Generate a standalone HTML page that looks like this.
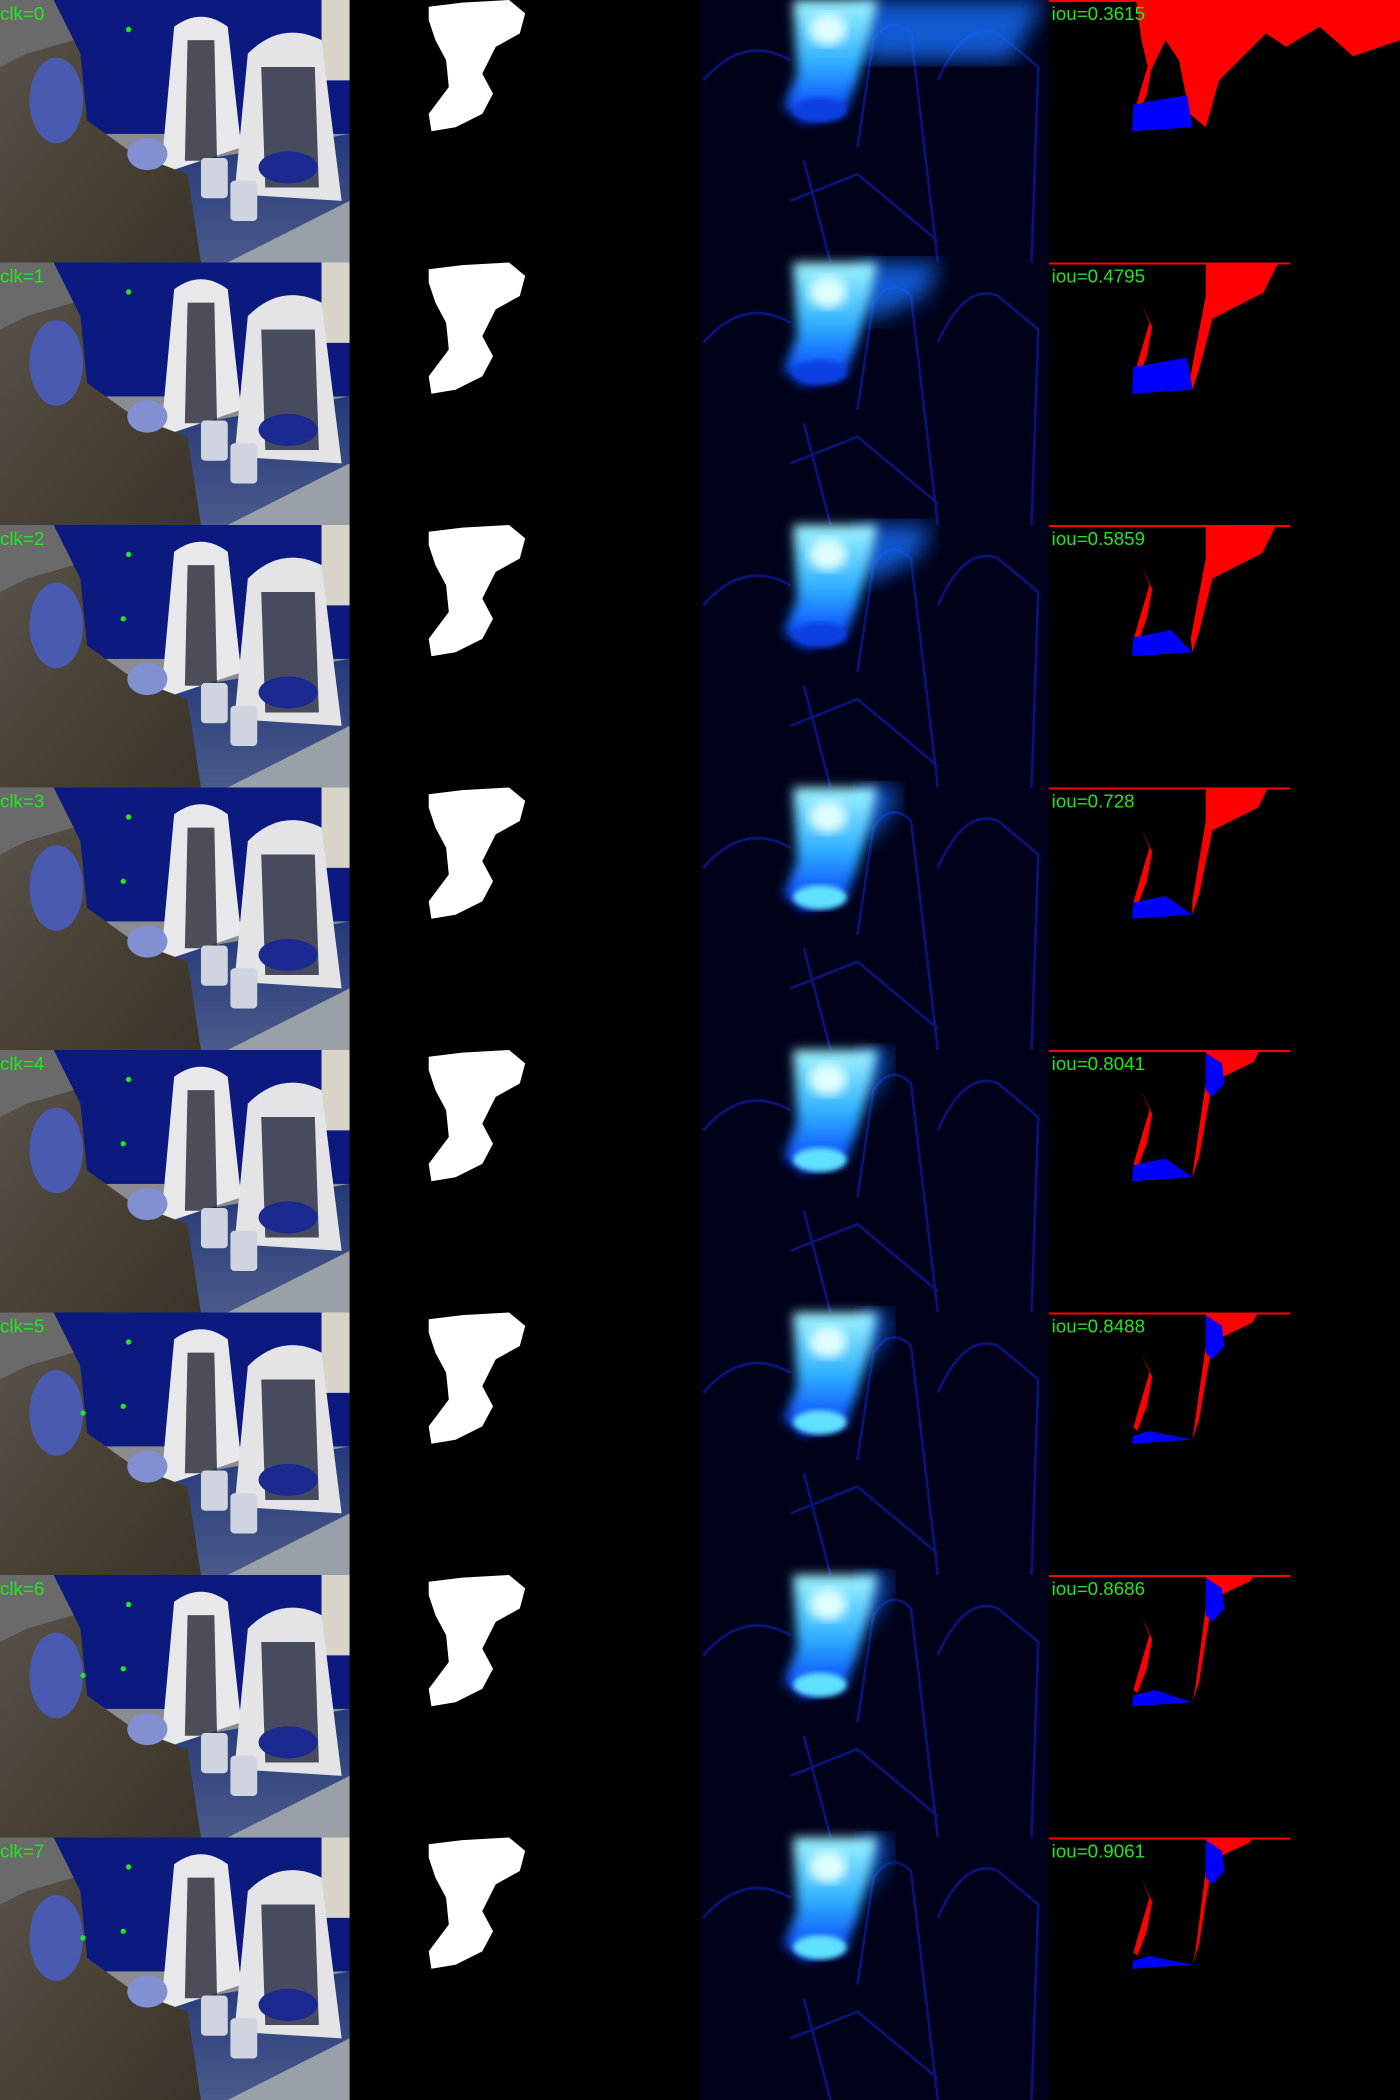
<!DOCTYPE html>
<html><head><meta charset="utf-8">
<style>
html,body{margin:0;padding:0;background:#000;}
svg{display:block;}
</style></head>
<body>
<svg id="grid" xmlns="http://www.w3.org/2000/svg" width="1400" height="2100" viewBox="0 0 1045 1568" preserveAspectRatio="none">
<defs>
<filter id="blur8"><feGaussianBlur stdDeviation="8"/></filter>
<filter id="blur4"><feGaussianBlur stdDeviation="4"/></filter>
<filter id="blur2"><feGaussianBlur stdDeviation="2"/></filter>
<linearGradient id="person" x1="0" y1="0" x2="1" y2="1">
<stop offset="0" stop-color="#5a5550"/><stop offset="0.5" stop-color="#4a4236"/><stop offset="1" stop-color="#3a342a"/>
</linearGradient>
<linearGradient id="floor" x1="0" y1="0" x2="0" y2="1">
<stop offset="0" stop-color="#24387a"/><stop offset="1" stop-color="#4a5a8a"/>
</linearGradient>
<linearGradient id="heat" x1="0" y1="0" x2="0" y2="1">
<stop offset="0" stop-color="#a0f4ff"/><stop offset="0.5" stop-color="#30b0ff"/><stop offset="1" stop-color="#0030ff"/>
</linearGradient>
</defs>
<rect x="0" y="0" width="1045" height="1568" fill="#000"/>
</svg>
<script>
const clickIndices = [0,1,2,3,4,5,6,7];
const iouValues = [0.3615,0.4795,0.5859,0.728,0.8041,0.8488,0.8686,0.9061];
const redScale = [1.0,0.75,0.7,0.5,0.3,0.25,0.15,0.12];
const blueScale = [1.0,1.0,0.7,0.6,0.6,0.3,0.4,0.3];
const spreadScale = [1.0,0.35,0.3,0.1,0.05,0.05,0.05,0.05];

const NS="http://www.w3.org/2000/svg";
const svg=document.getElementById('grid');
const ROW=196;
function el(tag,attrs,parent){const e=document.createElementNS(NS,tag);for(const k in attrs)e.setAttribute(k,attrs[k]);(parent||svg).appendChild(e);return e;}
function rowY(i){return i*ROW;}

clickIndices.forEach((c,i)=>{
  const g=el('g',{transform:`translate(0,${rowY(i)})`});
  
  
  const p=el('g',{},g);
  
  
  el('rect',{x:0,y:0,width:261,height:ROW,fill:'#8a8c90'},p);
  el('rect',{x:0,y:0,width:261,height:100,fill:'#0c1a80'},p);
  el('rect',{x:240,y:0,width:21,height:60,fill:'#d8d4c8'},p);
  el('polygon',{points:'90,130 261,100 261,150 170,196 110,196',fill:'url(#floor)'},p);
  el('polygon',{points:'170,196 261,150 261,196',fill:'#9aa0a8'},p);
  el('path',{d:'M120,130 L130,20 Q150,5 170,20 L180,110 Z',fill:'#e8e8ea'},p);
  el('path',{d:'M140,30 L160,30 L162,120 L138,120 Z',fill:'#1a1a2a',opacity:0.75},p);
  el('path',{d:'M175,145 L185,40 Q210,15 240,30 L255,150 Z',fill:'#e4e4e6'},p);
  el('path',{d:'M195,50 L235,50 L238,140 L198,140 Z',fill:'#141830',opacity:0.75},p);
  el('ellipse',{cx:215,cy:125,rx:22,ry:12,fill:'#1a2a90'},p);
  el('rect',{x:150,y:118,width:20,height:30,fill:'#d0d4e0',rx:3},p);
  el('rect',{x:172,y:135,width:20,height:30,fill:'#d0d4e0',rx:3},p);
  el('path',{d:'M0,0 L40,0 L60,40 L65,90 L100,115 L140,130 L150,196 L0,196 Z',fill:'url(#person)'},p);
  el('path',{d:'M0,0 L40,0 L55,30 L20,40 L0,50 Z',fill:'#6a6a6a'},p);
  el('ellipse',{cx:42,cy:75,rx:20,ry:32,fill:'#4a5ab0'},p);
  el('ellipse',{cx:110,cy:115,rx:15,ry:12,fill:'#8090d0'},p);
  el('rect',{x:261,y:0,width:2,height:ROW,fill:'#000'},p);
  const t=el('text',{x:0,y:15,fill:'#22e622','font-family':'Liberation Sans, sans-serif','font-size':14},g);
  t.textContent='clk='+c;
  
  
  el('circle',{cx:96,cy:22,r:2,fill:'#22e622'},g);
  if(i>=2) el('circle',{cx:92,cy:70,r:2,fill:'#22e622'},g);
  if(i>=5) el('circle',{cx:62,cy:75,r:2,fill:'#22e622'},g);

  const m=el('polygon',{points:'320,5 345,2 380,0 392,10 388,25 370,35 360,55 368,70 360,85 340,95 322,98 320,85 335,65 333,45 325,30 320,15',fill:'#fff'},g);
  
  

  const h=el('g',{},g);
  
  
  el('rect',{x:522,y:0,width:261,height:ROW,fill:'#00021a'},h);
  el('path',{d:'M525,60 Q555,25 590,45 M640,110 L652,30 Q665,10 680,25 L700,196 M700,60 Q720,15 745,25 L775,50 L770,196 M590,150 L640,130 L700,180 M600,120 L620,196',stroke:'#08147a','stroke-width':2,fill:'none'},h);
  const s=spreadScale[i];
  el('path',{d:`M640,0 L${660+120*s},0 L${655+100*s},${15+30*s} L645,45 Z`,fill:'#1870ff',opacity:0.8,filter:'url(#blur8)'},h);
  el('path',{d:'M592,0 L655,0 L650,25 L640,60 L630,85 L600,92 L585,80 L595,55 Z',fill:'url(#heat)',filter:'url(#blur4)'},h);
  el('ellipse',{cx:618,cy:22,rx:14,ry:12,fill:'#e0ffff',filter:'url(#blur4)'},h);
  el('ellipse',{cx:612,cy:82,rx:20,ry:9,fill:i>=3?'#60e0ff':'#1040e0',filter:'url(#blur2)'},h);

  const o=el('g',{},g);
  
  
  const r=redScale[i];
  if(i===0){
    el('path',{d:'M848,0 L1045,0 L1045,30 L1010,42 L985,20 L960,35 L945,25 L925,45 L910,60 L900,95 L888,85 L880,45 L870,30 L858,55 L852,30 Z',fill:'#f00'},o);
  } else {
    el('path',{d:`M900,0 L${900+62*(0.5+r/2)},0 L${900+62*(0.5+r/2)-15*r},${30*r} L905,${12+40*r} L895,80 L890,95 L${893-6*r},85 L900,25 Z`,fill:'#f00'},o);
  }
  el('path',{d:'M852,30 L858,45 L850,72 L846,86 L849,88 L856,70 L860,48 Z',fill:'#f00'},o);
  el('rect',{x:783,y:0,width:180,height:1.5,fill:'#f00'},o);
  const b=blueScale[i];
  el('path',{d:`M846,${98-20*b} L${846+40*b},${96-25*b} L890,95 L845,98 Z`,fill:'#00f'},o);
  if(i>=4) el('path',{d:'M900,2 L912,10 L914,25 L905,35 L900,30 Z',fill:'#00f'},o);
  const it=el('text',{x:785,y:15,fill:'#22e622','font-family':'Liberation Sans, sans-serif','font-size':14},g);
  it.textContent='iou='+iouValues[i];
  
  
});
</script>
</body></html>
